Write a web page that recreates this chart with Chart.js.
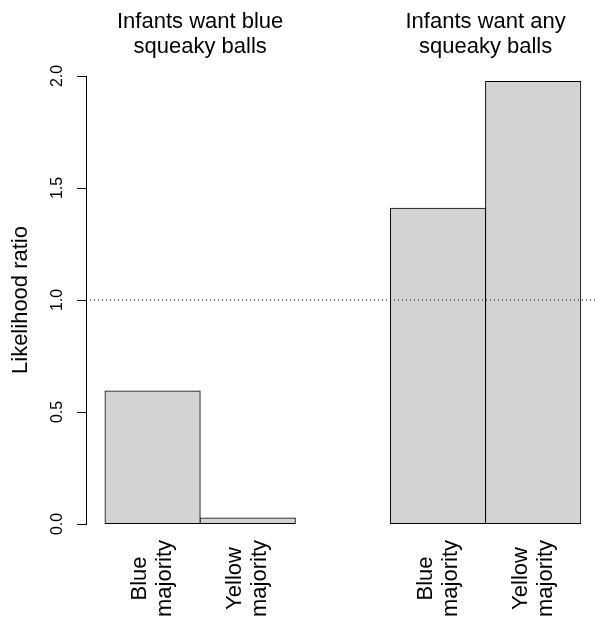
<!DOCTYPE html>
<html>
<head>
<meta charset="utf-8">
<script src="https://cdn.jsdelivr.net/npm/chart.js@4/dist/chart.umd.min.js"></script>
<style>
	html, body { margin: 0; padding: 0; background: #fff; }
	#wrap { width: 595px; height: 619px; }
</style>
</head>
<body>
<div id="wrap"><canvas id="lr"></canvas></div>
<script>
// Bars (two groups of two, R barplot style)
const barLabels = [["Blue", "majority"], ["Yellow", "majority"], ["Blue", "majority"], ["Yellow", "majority"]];
const barSlots = [1.5, 2.5, 4.5, 5.5];
const ratios = [0.594, 0.027, 1.41, 1.975];

// Group titles
const groupTitles = [["Infants want blue", "squeaky balls"], ["Infants want any", "squeaky balls"]];
const groupSlots = [2, 5];

// Reference line + y ticks
const refLevel = 1.0;
const yTicks = [0, 0.5, 1.0, 1.5, 2.0];

const FONT = "'Liberation Sans', Arial, sans-serif";

// draw bottom labels like R does (lines centred on each other, reading upwards)
const barLabelPlugin = {
	id: "barLabels",
	afterDraw(chart) {
		const ctx = chart.ctx;
		const x = chart.scales.x;
		const top = chart.chartArea.bottom + 16;
		const lineGap = 25;
		ctx.save();
		ctx.font = "22px " + FONT;
		ctx.fillStyle = "#000";
		ctx.textAlign = "center";
		ctx.textBaseline = "middle";
		barLabels.forEach((lines, i) => {
			const px = x.getPixelForValue(barSlots[i]);
			const blockW = Math.max(...lines.map(l => ctx.measureText(l).width));
			ctx.save();
			ctx.translate(px, top + blockW / 2);
			ctx.rotate(-Math.PI / 2);
			lines.forEach((l, j) => {
				ctx.fillText(l, 0, (j - (lines.length - 1) / 2) * lineGap);
			});
			ctx.restore();
		});
		ctx.restore();
	},
};

new Chart(document.getElementById("lr"), {
	type: "bar",
	data: {
		datasets: [
			{
				type: "line",
				data: [{ x: 0.8, y: refLevel }, { x: 6.15, y: refLevel }],
				borderColor: "#000",
				borderWidth: 1,
				borderDash: [1, 3],
				pointRadius: 0,
				fill: false,
				order: 0,
			},
			{
				data: ratios.map((v, i) => ({ x: barSlots[i], y: v })),
				backgroundColor: "#d3d3d3",
				borderColor: "#000",
				borderWidth: 1,
				borderSkipped: false,
				inflateAmount: 0.5,
				barPercentage: 1,
				categoryPercentage: 1,
				order: 1,
			},
		],
	},
	options: {
		responsive: true,
		maintainAspectRatio: false,
		animation: false,
		layout: { padding: { top: 0, left: 0, right: 0, bottom: 95 } },
		plugins: {
			legend: { display: false },
			tooltip: { enabled: false },
		},
		scales: {
			x: {
				type: "linear",
				min: 0.8,
				max: 6.15,
				display: false,
				offset: false,
				afterBuildTicks: s => { s.ticks = barSlots.map(v => ({ value: v })); },
			},
			x2: {
				type: "linear",
				position: "top",
				min: 0.8,
				max: 6.15,
				offset: false,
				grid: { display: false, drawTicks: false },
				border: { display: false },
				afterBuildTicks: s => { s.ticks = groupSlots.map(v => ({ value: v })); },
				afterFit: s => { s.height = 76; },
				ticks: {
					autoSkip: false,
					maxRotation: 0,
					padding: 17,
					color: "#000",
					font: { family: FONT, size: 22, lineHeight: 25 / 22 },
					callback: (v, i) => groupTitles[i],
				},
			},
			y: {
				min: 0,
				max: 2,
				afterBuildTicks: s => { s.ticks = yTicks.map(v => ({ value: v })); },
				afterFit: s => { s.width = 86; },
				grid: { drawOnChartArea: false, drawTicks: true, tickLength: 9, color: "#000", lineWidth: 1 },
				border: { display: true, color: "#000", width: 1 },
				ticks: {
					minRotation: 90,
					maxRotation: 90,
					crossAlign: "center",
					padding: 8,
					color: "#000",
					font: { family: FONT, size: 16 },
					callback: v => v.toFixed(1),
				},
				title: {
					display: true,
					text: "Likelihood ratio",
					color: "#000",
					font: { family: FONT, size: 22 },
					padding: { top: 8, bottom: 0 },
				},
			},
		},
	},
	plugins: [barLabelPlugin],
});
</script>
</body>
</html>
